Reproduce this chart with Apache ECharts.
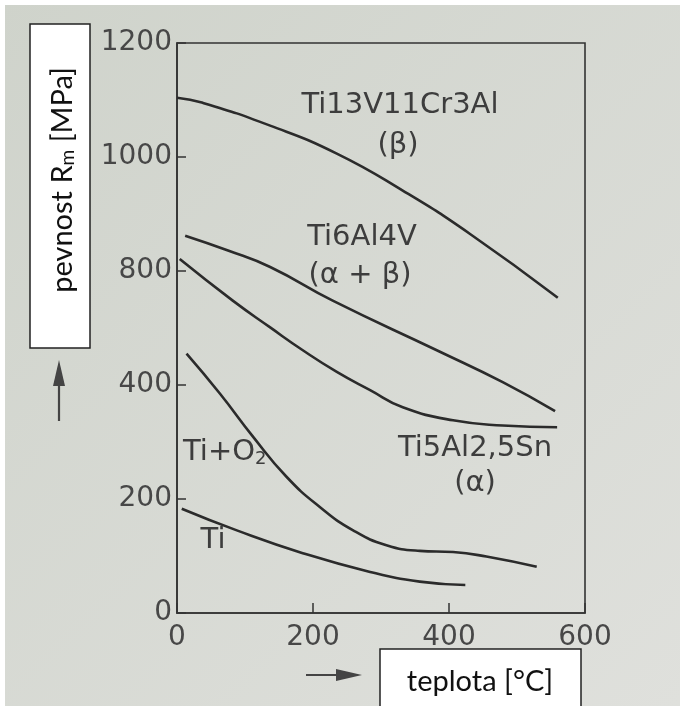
<!DOCTYPE html>
<html>
<head>
<meta charset="utf-8">
<script src="https://cdn.jsdelivr.net/npm/echarts@6/dist/echarts.min.js"></script>
<style>
  html, body { margin: 0; padding: 0; }
  #chart { width: 680px; height: 706px; }
</style>
</head>
<body>
<div id="chart"></div>
<script>
// tick labels as printed on the page (note: the 600 label is missing, ticks are evenly spaced)
const yTickLabels = [0, 200, 400, 800, 1000, 1200];
const xTicks = [0, 200, 400, 600];

// temperature [°C] and strength [MPa]
const betaT = [0, 38, 137, 235, 332, 431, 560];
const betaV = [1104, 1095, 1055, 1006, 941, 865, 706];

const ab_T = [12, 75, 137, 229, 382, 479, 556];
const ab_V = [862, 836, 807, 696, 522, 410, 354];

const alphaT = [4, 82, 137, 185, 235, 284, 332, 406, 479, 559];
const alphaV = [821, 696, 602, 522, 446, 391, 361, 338, 329, 326];

const tio2T = [14, 63, 112, 161, 210, 259, 308, 357, 406, 455, 529];
const tio2V = [510, 385, 309, 239, 186, 145, 119, 109, 107, 99, 81];

const tiT = [7, 88, 185, 284, 357, 424];
const tiV = [183, 145, 105, 72, 55, 49];

// map a printed MPa value onto the evenly spaced tick positions (200 units per tick)
function toAxis(v) {
  for (let i = 0; i < yTickLabels.length - 1; i++) {
    const a = yTickLabels[i], b = yTickLabels[i + 1];
    if (v <= b || i === yTickLabels.length - 2) {
      return i * 200 + (v - a) / (b - a) * 200;
    }
  }
}

function pairs(ts, vs) {
  return ts.map((t, i) => [t, toAxis(vs[i])]);
}

const lineColor = "#2b2b2b";
const inkColor = "#3d3d3d";
const plotFont = "DejaVu Sans";

function curve(name, ts, vs) {
  return {
    name: name,
    type: "line",
    smooth: 0.5,
    symbol: "none",
    lineStyle: { color: lineColor, width: 2.6 },
    data: pairs(ts, vs),
  };
}

function label(text, x, y) {
  return {
    type: "text",
    x: x,
    y: y,
    z: 100,
    style: {
      text: text,
      fill: inkColor,
      font: "29px '" + plotFont + "'",
      align: "center",
      verticalAlign: "middle",
    },
  };
}

const chart = echarts.init(document.getElementById("chart"));

const option = {
  animation: false,
  grid: {
    left: 177,
    right: 95,
    top: 43,
    bottom: 93,
    show: true,
    borderColor: "#333",
    borderWidth: 1.6,
    backgroundColor: "transparent",
  },
  xAxis: {
    type: "value",
    min: 0,
    max: 600,
    interval: 200,
    axisLine: { show: true, lineStyle: { color: "#333", width: 1.6 } },
    axisTick: { show: true, inside: true, length: 10, lineStyle: { color: "#333", width: 1.5 } },
    splitLine: { show: false },
    axisLabel: {
      margin: 11,
      color: "#474747",
      fontFamily: plotFont,
      fontSize: 28,
      formatter: (v) => (xTicks.includes(v) ? String(v) : ""),
    },
  },
  yAxis: {
    type: "value",
    min: 0,
    max: 1000,
    interval: 200,
    axisLine: { show: true, lineStyle: { color: "#333", width: 1.6 } },
    axisTick: { show: true, inside: true, length: 9, lineStyle: { color: "#333", width: 1.5 } },
    splitLine: { show: false },
    axisLabel: {
      margin: 5,
      color: "#474747",
      fontFamily: plotFont,
      fontSize: 28,
      formatter: (v) => String(yTickLabels[Math.round(v / 200)]),
    },
  },
  series: [
    curve("Ti13V11Cr3Al", betaT, betaV),
    curve("Ti6Al4V", ab_T, ab_V),
    curve("Ti5Al2,5Sn", alphaT, alphaV),
    curve("Ti+O2", tio2T, tio2V),
    curve("Ti", tiT, tiV),
  ],
  graphic: [
    // paper background
    {
      type: "rect",
      z: -100,
      silent: true,
      shape: { x: 0, y: 0, width: 680, height: 706 },
      style: {
        fill: new echarts.graphic.LinearGradient(0, 0, 1, 1, [
          { offset: 0, color: "#cfd3cb" },
          { offset: 1, color: "#dfe0dc" },
        ]),
      },
    },
    { type: "rect", z: -90, silent: true, shape: { x: 0, y: 0, width: 680, height: 5 }, style: { fill: "#fff" } },
    { type: "rect", z: -90, silent: true, shape: { x: 0, y: 0, width: 5, height: 706 }, style: { fill: "#fff" } },

    // curve labels
    label("Ti13V11Cr3Al", 400, 105),
    label("(β)", 398, 145),
    label("Ti6Al4V", 362, 237),
    label("(α + β)", 360, 275),
    label("Ti5Al2,5Sn", 475, 448),
    label("(α)", 475, 483),
    label("Ti", 213, 540),
    {
      type: "text",
      x: 183,
      y: 452,
      z: 100,
      style: {
        text: "Ti+O{s|2}",
        fill: inkColor,
        font: "29px '" + plotFont + "'",
        align: "left",
        verticalAlign: "middle",
        rich: {
          s: { fontSize: 18, fontFamily: plotFont, fill: inkColor, padding: [14, 0, 0, 0] },
        },
      },
    },

    // y axis title box
    {
      type: "rect",
      z: 100,
      shape: { x: 30, y: 24, width: 60, height: 324 },
      style: { fill: "#fff", stroke: "#222", lineWidth: 1.5 },
    },
    {
      type: "text",
      z: 101,
      x: 63,
      y: 180,
      rotation: Math.PI / 2,
      style: {
        text: "pevnost R{s|m} [MPa]",
        fill: "#111",
        font: "29px Lato",
        align: "center",
        verticalAlign: "middle",
        rich: {
          s: { fontSize: 19, fontFamily: "Lato", fill: "#111", padding: [10, 0, 0, 0] },
        },
      },
    },

    // x axis title box
    {
      type: "rect",
      z: 100,
      shape: { x: 380, y: 649, width: 201, height: 70 },
      style: { fill: "#fff", stroke: "#222", lineWidth: 1.5 },
    },
    {
      type: "text",
      z: 101,
      x: 480,
      y: 682,
      style: {
        text: "teplota [°C]",
        fill: "#111",
        font: "29px Lato",
        align: "center",
        verticalAlign: "middle",
      },
    },

    // arrows
    {
      type: "line",
      z: 100,
      shape: { x1: 59, y1: 421, x2: 59, y2: 380 },
      style: { stroke: "#444", lineWidth: 2.2 },
    },
    {
      type: "polygon",
      z: 100,
      shape: { points: [[59, 360], [53, 386], [65, 386]] },
      style: { fill: "#444" },
    },
    {
      type: "line",
      z: 100,
      shape: { x1: 306, y1: 675, x2: 342, y2: 675 },
      style: { stroke: "#444", lineWidth: 2.2 },
    },
    {
      type: "polygon",
      z: 100,
      shape: { points: [[362, 675], [336, 669], [336, 681]] },
      style: { fill: "#444" },
    },
  ],
};

chart.setOption(option);
</script>
</body>
</html>
